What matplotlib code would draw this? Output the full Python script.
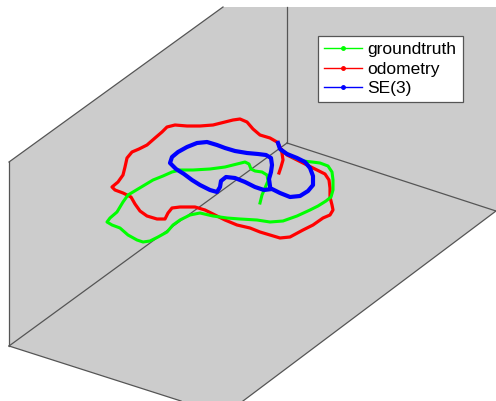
import matplotlib
matplotlib.use("Agg")
import matplotlib.pyplot as plt
from matplotlib.patches import Polygon
from matplotlib.lines import Line2D
import numpy as np

plt.rcParams['font.family'] = ['Liberation Sans', 'DejaVu Sans']

# trajectories (projected view, pixel units)
gt_x = [282, 293, 303, 312, 320, 328, 332, 333, 333, 331, 326, 318, 310, 297, 283, 270, 257, 240,
        227, 213, 200, 190, 180, 173, 167, 158, 150, 143, 137, 128, 120, 112, 107, 110, 117, 123,
        128, 133, 143, 153, 163, 172, 180, 193, 210, 225, 237, 245, 249, 251, 255, 262, 267, 268,
        265, 262, 260]
gt_y = [151, 157, 161, 162, 163, 166, 172, 180, 190, 197, 201, 206, 210, 216, 221, 222, 220, 219,
        218, 216, 213, 215, 220, 225, 232, 237, 241, 242, 240, 235, 228, 225, 222, 218, 212, 202,
        195, 192, 186, 180, 176, 172, 170, 170, 169, 167, 164, 162, 164, 169, 171, 172, 175, 181,
        188, 195, 203]

odo_x = [282, 287, 297, 307, 317, 325, 329, 330, 330, 332, 333, 330, 323, 313, 303, 290, 280, 270,
         260, 250, 237, 225, 215, 205, 195, 180, 172, 168, 165, 157, 147, 140, 135, 131, 123, 115,
         112, 118, 123, 125, 127, 132, 139, 147, 155, 162, 167, 175, 187, 200, 213, 225, 233, 240,
         247, 253, 260, 270, 277, 280, 282, 283, 281, 279]
odo_y = [150, 155, 160, 165, 170, 174, 180, 188, 197, 205, 210, 215, 218, 225, 230, 237, 238, 235,
         232, 228, 225, 220, 215, 210, 207, 207, 208, 213, 219, 219, 216, 211, 204, 197, 193, 190,
         187, 182, 175, 167, 158, 152, 149, 145, 138, 132, 127, 125, 126, 126, 125, 122, 120, 119,
         122, 129, 135, 138, 142, 147, 153, 160, 167, 173]

se3_x = [278, 280, 287, 297, 305, 310, 313, 313, 308, 300, 290, 280, 272, 264, 255, 245, 235, 226,
         221, 220, 217, 210, 200, 192, 184, 176, 170, 172, 178, 187, 197, 207, 217, 225, 235, 247,
         258, 266, 271, 272, 271, 269, 270]
se3_y = [143, 149, 154, 158, 162, 168, 176, 185, 191, 196, 197, 193, 189, 190, 187, 182, 178, 177,
         181, 187, 192, 190, 185, 180, 174, 169, 163, 157, 152, 147, 143, 142, 145, 148, 151, 153,
         154, 155, 158, 165, 172, 179, 186]

labels = ['groundtruth', 'odometry', 'SE(3)']
colors = ['#00ff00', '#ff0000', '#0000ff']

W, H = 496, 401
fig = plt.figure(figsize=(W / 100, H / 100), dpi=100)
ax = fig.add_axes([0, 0, 1, 1])
ax.set_xlim(0, W)
ax.set_ylim(H, 0)
ax.axis('off')

# back panes of the 3d box
corner = (287, 143)
panes = Polygon([(9, 162), (223, 7), (496, 7), (496, 211), (243, 401), (181, 401), (9, 346)],
                closed=True, facecolor='#cccccc', edgecolor='none', zorder=0)
ax.add_patch(panes)
edge = dict(color='#555555', lw=0.9, zorder=1)
ax.plot([9, 9], [162, 346], **edge)
ax.plot([9, corner[0]], [346, corner[1]], **edge)
ax.plot([corner[0], corner[0]], [corner[1], 7], **edge)
ax.plot([corner[0], 496], [corner[1], 211], **edge)
ax.plot([9, 223], [162, 7], **edge)
ax.plot([9, 181], [346, 401], **edge)
ax.plot([496, 243], [211, 401], **edge)

ax.plot(odo_x, odo_y, color=colors[1], lw=2.3, solid_joinstyle='round', zorder=3)
ax.plot(gt_x, gt_y, color=colors[0], lw=2.2, solid_joinstyle='round', zorder=4)
ax.plot(se3_x, se3_y, color=colors[2], lw=3.0, solid_joinstyle='round', zorder=5)

handles = [Line2D([], [], color=c, lw=1, marker='.', markersize=5) for c in colors]
leg = ax.legend(handles, labels, loc='upper left', bbox_to_anchor=(318 / W, 1 - 36 / H),
                borderaxespad=0, fontsize=12.5, frameon=True, fancybox=False,
                edgecolor='#555555', framealpha=1, handlelength=2.2, handletextpad=0.3,
                borderpad=0.35, labelspacing=0.25, numpoints=1)
leg.get_frame().set_linewidth(0.9)

fig.savefig('out.png', dpi=100)
